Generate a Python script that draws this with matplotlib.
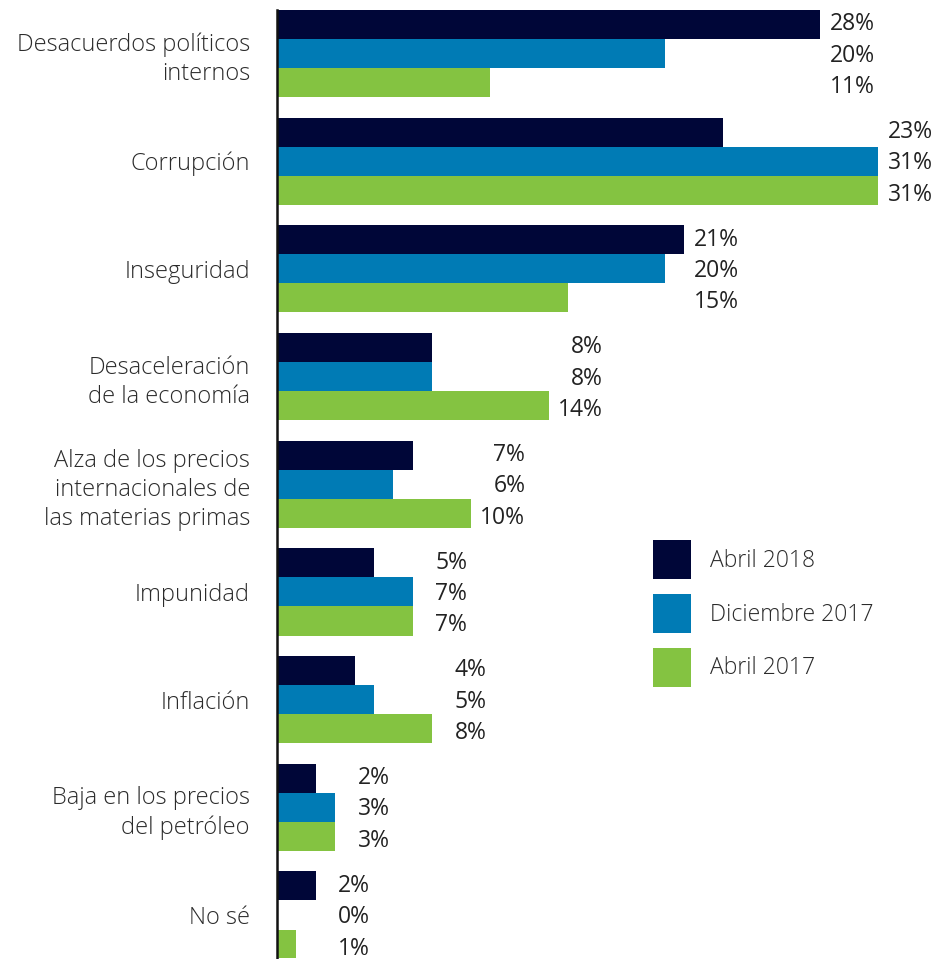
import matplotlib
matplotlib.use("Agg")
import matplotlib.pyplot as plt
import numpy as np

plt.rcParams["font.family"] = ["Open Sans", "DejaVu Sans"]
plt.rcParams["font.weight"] = "light"

categories = [
    "Desacuerdos políticos\ninternos",
    "Corrupción",
    "Inseguridad",
    "Desaceleración\nde la economía",
    "Alza de los precios\ninternacionales de\nlas materias primas",
    "Impunidad",
    "Inflación",
    "Baja en los precios\ndel petróleo",
    "No sé",
]
series = ["Abril 2018", "Diciembre 2017", "Abril 2017"]
abril_2018 = [28, 23, 21, 8, 7, 5, 4, 2, 2]
diciembre_2017 = [20, 31, 20, 8, 6, 7, 5, 3, 0]
abril_2017 = [11, 31, 15, 14, 10, 7, 8, 3, 1]

colors = ["#000638", "#007BB5", "#84C341"]
values = [abril_2018, diciembre_2017, abril_2017]

fig = plt.figure(figsize=(9.41, 9.59), dpi=100)
ax = fig.add_axes([277 / 941, 1 / 959, 1 - 277 / 941, 948 / 959])

y = np.arange(len(categories))
h = 0.27
offsets = [-h, 0, h]

for vals, col, off, name in zip(values, colors, offsets, series):
    ax.barh(y + off, vals, height=h, color=col, label=name, zorder=2)

# value labels, right-aligned a little past the longest bar in each group
group_max = np.max(np.array(values), axis=0)
for vals, off in zip(values, offsets):
    for i, v in enumerate(vals):
        ax.text(group_max[i] + 2.8, y[i] + off * 1.08 + 0.02, f"{v}%",
                ha="right", va="center", fontsize=16.5, fontweight="normal",
                color="#222222")

ax.set_xlim(0, 664 / 19.4)
ax.set_ylim(8 + 43 / 107.7, -43.5 / 107.7)
ax.set_yticks(y)
ax.set_yticklabels(categories, fontsize=17, color="#2b2b2b", linespacing=1.28)
ax.tick_params(axis="y", length=0, pad=19.5)
ax.set_xticks([])

for s in ["top", "right", "bottom"]:
    ax.spines[s].set_visible(False)
ax.spines["left"].set_linewidth(1.8)
ax.spines["left"].set_color("#111111")

leg = ax.legend(loc="upper left", bbox_to_anchor=(653 / 941, 1 - 540 / 959),
                bbox_transform=fig.transFigure, frameon=False, fontsize=16.5,
                handlelength=1.66, handleheight=2.24, handletextpad=0.83,
                labelspacing=0.65, borderpad=0, borderaxespad=0)
for t in leg.get_texts():
    t.set_color("#2b2b2b")

plt.savefig("out.png", dpi=100)
